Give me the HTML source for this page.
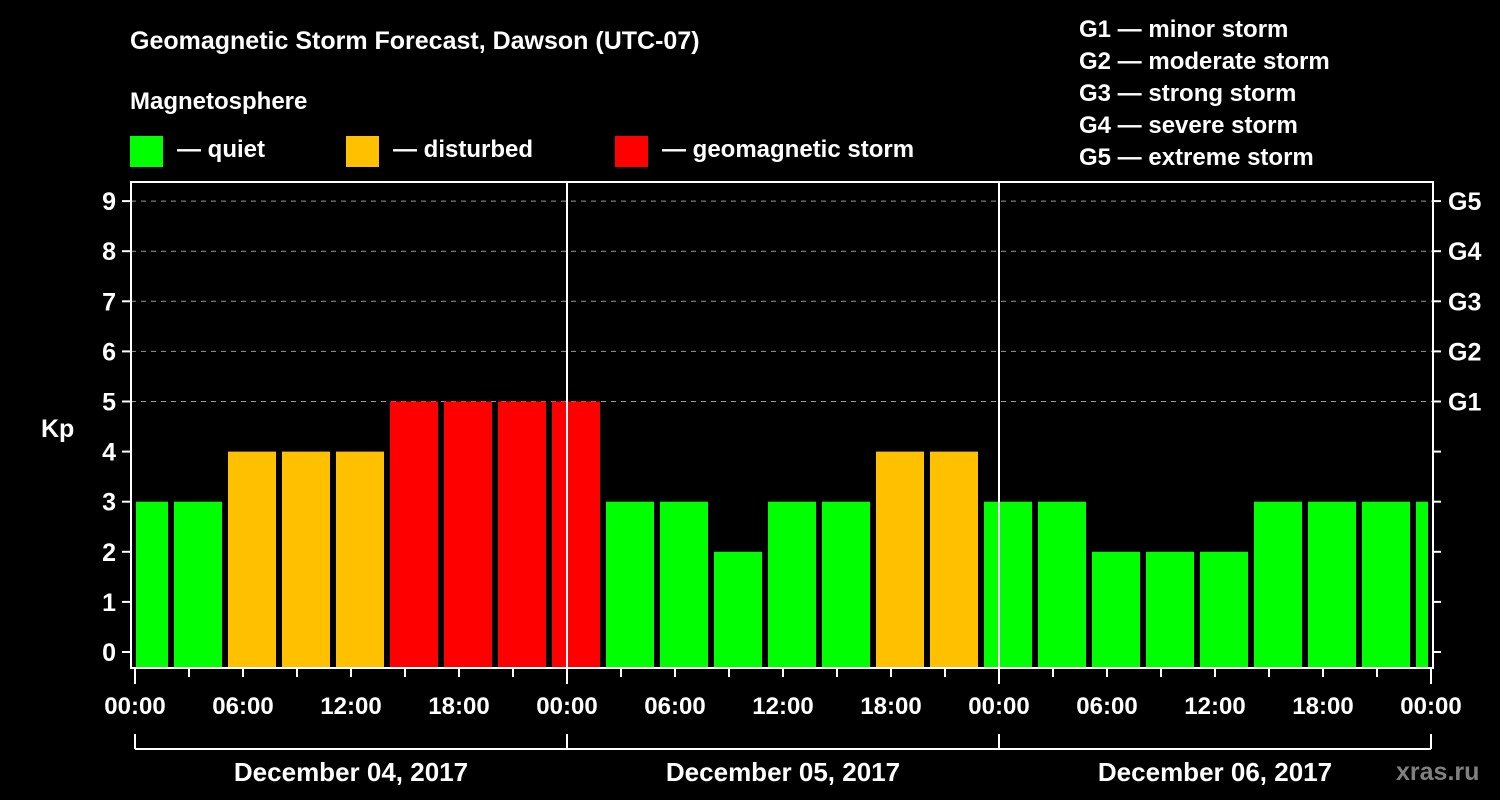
<!DOCTYPE html>
<html><head><meta charset="utf-8"><style>
body{margin:0;background:#000;}
svg{display:block;font-family:"Liberation Sans",Arial,sans-serif;font-weight:bold;}
</style></head><body>
<svg width="1500" height="800" viewBox="0 0 1500 800" xmlns="http://www.w3.org/2000/svg">
<rect width="1500" height="800" fill="#000"/>
<text x="130" y="49" fill="#fff" font-size="25">Geomagnetic Storm Forecast, Dawson (UTC-07)</text>
<text x="130" y="109" fill="#fff" font-size="24">Magnetosphere</text>
<g><rect x="130" y="136" width="33" height="31" fill="#00ff00"/><text x="177" y="157" fill="#fff" font-size="24">— quiet</text></g>
<g><rect x="346" y="136" width="33" height="31" fill="#ffc000"/><text x="393" y="157" fill="#fff" font-size="24">— disturbed</text></g>
<g><rect x="615" y="136" width="33" height="31" fill="#ff0000"/><text x="662" y="157" fill="#fff" font-size="24">— geomagnetic storm</text></g>
<g fill="#fff" font-size="24">
<text x="1079" y="37">G1 — minor storm</text>
<text x="1079" y="69">G2 — moderate storm</text>
<text x="1079" y="101">G3 — strong storm</text>
<text x="1079" y="133">G4 — severe storm</text>
<text x="1079" y="165">G5 — extreme storm</text>
</g>
<text x="41" y="437" fill="#fff" font-size="25">Kp</text>
<text x="1396" y="780" fill="#808080" font-size="25">xras.ru</text>
<defs><clipPath id="pc"><rect x="136" y="182" width="1292" height="486"/></clipPath></defs>
<g id="grid"></g>
<g id="bars" clip-path="url(#pc)"></g>
<g id="axes"></g>
</svg>
<script>
const kpValues=[3,3,4,4,4,5,5,5,5,3,3,2,3,3,4,4,3,3,2,2,2,3,3,3,3];
const yTicks=[0,1,2,3,4,5,6,7,8,9];
const gLabels=["G1","G2","G3","G4","G5"];
const gLevels=[5,6,7,8,9];
const xTickLabels=["00:00","06:00","12:00","18:00","00:00","06:00","12:00","18:00","00:00","06:00","12:00","18:00","00:00"];
const dayLabels=["December 04, 2017","December 05, 2017","December 06, 2017"];
const NS="http://www.w3.org/2000/svg";
const x0=135,pxPerHour=18,yZero=652,pxPerKp=50.1;
const xh=h=>x0+h*pxPerHour;
const yk=k=>yZero-k*pxPerKp;
function mk(t,a,p){const e=document.createElementNS(NS,t);for(const k in a)e.setAttribute(k,a[k]);p.appendChild(e);return e;}
const grid=document.getElementById('grid'),bars=document.getElementById('bars'),axes=document.getElementById('axes');
yTicks.forEach(v=>{if(v>=5){const l=mk('line',{x1:131,x2:1433,y1:yk(v),y2:yk(v),stroke:'#999','stroke-width':1,'stroke-dasharray':'5,5'},grid);

}});
kpValues.forEach((v,i)=>{const start=-1+3*i;const x=xh(start)+3,w=3*pxPerHour-6;
const c=v>=5?'#ff0000':(v>=4?'#ffc000':'#00ff00');
const r=mk('rect',{x:x,y:yk(v),width:w,height:667-yk(v),fill:c},bars);

});
[1,2].forEach(d=>{const l=mk('line',{x1:xh(24*d),x2:xh(24*d),y1:182,y2:668,stroke:'#fff','stroke-width':2},axes);

});
const fr=mk('rect',{x:131,y:182,width:1302,height:486,fill:'none',stroke:'#fff','stroke-width':2},axes);


yTicks.forEach(v=>{mk('line',{x1:122,x2:131,y1:yk(v),y2:yk(v),stroke:'#fff','stroke-width':2},axes);
mk('line',{x1:1433,x2:1441,y1:yk(v),y2:yk(v),stroke:'#fff','stroke-width':2},axes);
const t=mk('text',{x:116,y:yk(v)+9,fill:'#fff','font-size':25,'text-anchor':'end'},axes);t.textContent=v;

});
gLabels.forEach((g,i)=>{const t=mk('text',{x:1448,y:yk(gLevels[i])+9,fill:'#fff','font-size':25},axes);t.textContent=g;

});
for(let h=0;h<=72;h+=3){const major=h%24===0;mk('line',{x1:xh(h),x2:xh(h),y1:669,y2:major?684:677,stroke:'#fff','stroke-width':2},axes);}
xTickLabels.forEach((s,i)=>{const t=mk('text',{x:xh(6*i),y:714,fill:'#fff','font-size':24,'text-anchor':'middle'},axes);t.textContent=s;

});
mk('line',{x1:xh(0),x2:xh(72),y1:749,y2:749,stroke:'#fff','stroke-width':2},axes);
for(let d=0;d<=3;d++)mk('line',{x1:xh(24*d),x2:xh(24*d),y1:734,y2:749,stroke:'#fff','stroke-width':2},axes);
dayLabels.forEach((s,i)=>{const t=mk('text',{x:xh(24*i+12),y:781,fill:'#fff','font-size':26,'text-anchor':'middle'},axes);t.textContent=s;

});
</script>
</body></html>
